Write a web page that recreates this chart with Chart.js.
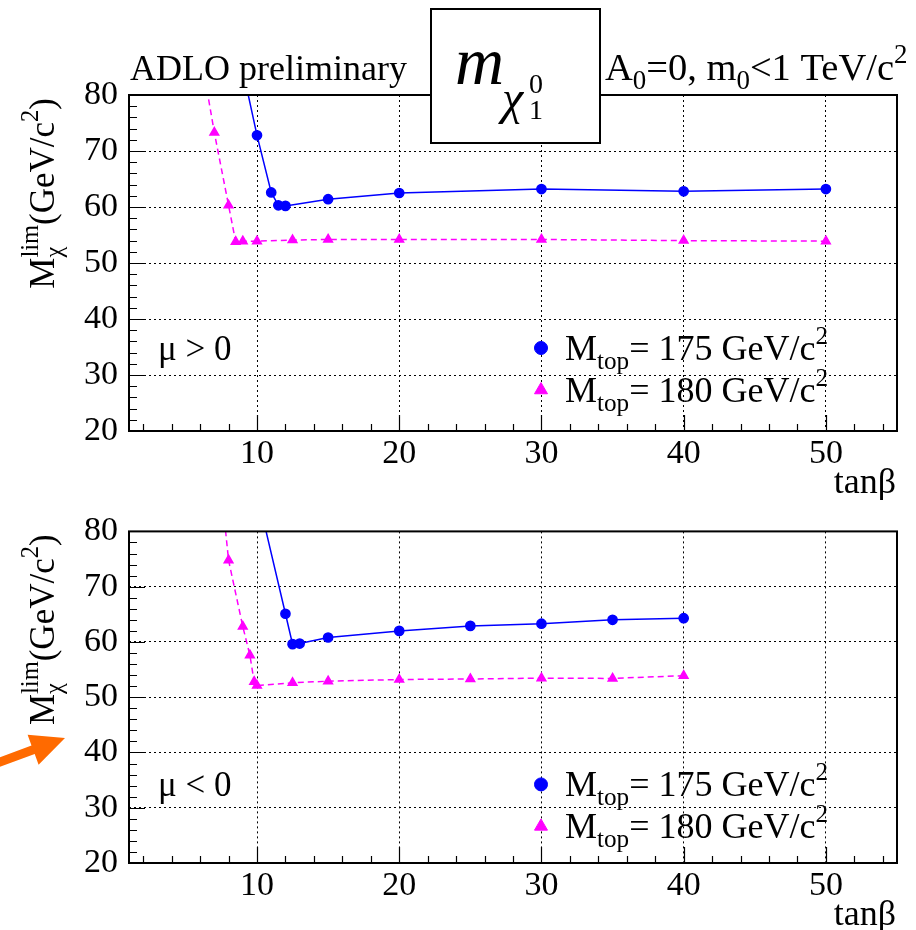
<!DOCTYPE html>
<html>
<head>
<meta charset="utf-8">
<script src="https://cdn.jsdelivr.net/npm/chart.js@4/dist/chart.umd.min.js"></script>
<style>
  body { margin: 0; background: #fff; }
  #wrap { position: relative; width: 916px; height: 930px; }
  canvas { position: absolute; left: 0; }
</style>
</head>
<body>
<div id="wrap">
  <canvas id="panelPos" width="916" height="500" style="top:0"></canvas>
  <canvas id="panelNeg" width="916" height="430" style="top:500px"></canvas>
</div>
<script>
// tanβ scan of the neutralino mass limit, mu > 0
const tanbPos175 = [9, 10, 11, 11.5, 12, 15, 20, 30, 40, 50];
const mlimPos175 = [84.5, 72.8, 62.6, 60.3, 60.2, 61.4, 62.5, 63.2, 62.8, 63.2];
const tanbPos180 = [6, 7, 8, 8.5, 9, 10, 12.5, 15, 20, 30, 40, 50];
const mlimPos180 = [88, 73.3, 60.3, 53.8, 53.9, 53.9, 54.1, 54.2, 54.2, 54.2, 54.0, 53.9];

// same, mu < 0
const tanbNeg175 = [10, 12, 12.5, 13, 15, 20, 25, 30, 35, 40];
const mlimNeg175 = [87, 65.1, 59.6, 59.7, 60.8, 62.0, 62.9, 63.3, 64.0, 64.3];
const tanbNeg180 = [7, 8, 9, 9.5, 9.8, 10, 12.5, 15, 20, 25, 30, 35, 40];
const mlimNeg180 = [100, 74.8, 62.8, 57.6, 52.8, 52.1, 52.6, 52.9, 53.2, 53.3, 53.45, 53.4, 53.9];

const xTickValues = [10, 20, 30, 40, 50];
const yTickValues = [20, 30, 40, 50, 60, 70, 80];
const mtopValues = ['175', '180'];

const SERIF = '"Liberation Serif", "Times New Roman", serif';
const BLUE = '#0000ff';
const MAGENTA = '#ff00ff';

function fontOf(size, style) {
  return (style || '') + ' ' + size + 'px ' + SERIF;
}

// pieces are plain strings or {sub, sup} stacked at the same x
function pieceWidth(ctx, p, size) {
  if (typeof p === 'string') {
    ctx.font = fontOf(size);
    return ctx.measureText(p).width;
  }
  ctx.font = fontOf(size * 0.7, p.style);
  const a = p.sub ? ctx.measureText(p.sub).width : 0;
  const b = p.sup ? ctx.measureText(p.sup).width : 0;
  return Math.max(a, b);
}

function drawRich(ctx, x, y, parts, size, align) {
  if (align === 'right') {
    x -= parts.reduce((w, p) => w + pieceWidth(ctx, p, size), 0);
  }
  ctx.textAlign = 'left';
  ctx.textBaseline = 'alphabetic';
  for (const p of parts) {
    const w = pieceWidth(ctx, p, size);
    if (typeof p === 'string') {
      ctx.font = fontOf(size);
      ctx.fillText(p, x, y);
    } else {
      ctx.font = fontOf(size * 0.7, p.style);
      if (p.sub) ctx.fillText(p.sub, x, y + size * 0.24);
      if (p.sup) ctx.fillText(p.sup, x, y - size * 0.45);
    }
    x += w;
  }
}

function toPoints(xs, ys) {
  return xs.map((x, i) => ({ x: x, y: ys[i] }));
}

// frame and the inward ROOT-style tick marks
const axisTicks = {
  id: 'axisTicks',
  afterDraw(chart) {
    const { ctx, chartArea: a, scales: { x, y } } = chart;
    ctx.save();
    ctx.strokeStyle = '#000';
    ctx.lineWidth = 1.2;
    ctx.beginPath();
    for (let v = 2; v <= 54; v += 2) {
      const px = Math.round(x.getPixelForValue(v)) + 0.5;
      const len = v % 10 === 0 ? 16 : 7;
      ctx.moveTo(px, a.bottom);
      ctx.lineTo(px, a.bottom - len);
    }
    for (let v = 22; v < 80; v += 2) {
      const py = Math.round(y.getPixelForValue(v)) + 0.5;
      const len = v % 10 === 0 ? 16 : 8;
      ctx.moveTo(a.left, py);
      ctx.lineTo(a.left + len, py);
    }
    ctx.stroke();
    ctx.lineWidth = 2;
    ctx.strokeRect(a.left, a.top, a.right - a.left, a.bottom - a.top);
    ctx.restore();
  }
};

// labels, legend and titles drawn over the plot
const panelText = {
  id: 'panelText',
  afterDraw(chart, args, opts) {
    const { ctx, chartArea: a } = chart;
    ctx.save();
    ctx.fillStyle = '#000';

    // mu sign
    drawRich(ctx, 158, a.top + 265, [opts.mu], 35);

    // legend
    const sets = chart.data.datasets;
    const rows = [a.top + 253, a.top + 295];
    sets.forEach((ds, i) => {
      ctx.save();
      ctx.fillStyle = ds.pointBackgroundColor;
      ctx.strokeStyle = ds.pointBackgroundColor;
      Chart.helpers.drawPoint(ctx, {
        pointStyle: ds.pointStyle,
        radius: ds.pointStyle === 'triangle' ? 7.5 : 6.5,
        borderWidth: 1,
        rotation: 0
      }, 541, rows[i]);
      ctx.restore();
      drawRich(ctx, 565, rows[i] + 12, ['M', { sub: 'top' }, '= ' + mtopValues[i] + ' GeV/c', { sup: '2' }], 36);
    });

    // y axis title, rotated
    ctx.save();
    ctx.translate(54, a.top + 3);
    ctx.rotate(-Math.PI / 2);
    drawRich(ctx, 0, 0, ['M', { sub: 'χ', sup: 'lim' }, '(GeV/c', { sup: '2' }, ')'], 35, 'right');
    ctx.restore();

    // x axis title
    drawRich(ctx, 896, a.bottom + 62, ['tanβ'], 36, 'right');

    if (opts.header) {
      drawRich(ctx, 130, 80, ['ADLO preliminary'], 36);
      drawRich(ctx, 605, 80, ['A', { sub: '0' }, '=0, m', { sub: '0' }, '<1 TeV/c', { sup: '2' }], 38.5);

      ctx.fillStyle = '#fff';
      ctx.fillRect(431, 9, 169, 134);
      ctx.lineWidth = 2;
      ctx.strokeStyle = '#000';
      ctx.strokeRect(431, 9, 169, 134);
      ctx.fillStyle = '#000';
      ctx.font = fontOf(68, 'italic');
      ctx.fillText('m', 455, 84);
      ctx.font = fontOf(48, 'italic');
      ctx.fillText('χ', 502, 114);
      ctx.font = fontOf(28);
      ctx.fillText('0', 529, 93);
      ctx.fillText('1', 529, 119);
    }

    if (opts.arrow) {
      // orange pointer at the left edge
      const oy = chart.canvas.offsetTop;
      ctx.fillStyle = '#ff6a00';
      ctx.beginPath();
      ctx.moveTo(-10 - 1.6, 765.7 - 4.2 - oy);
      ctx.lineTo(33.1 - 1.6, 749.8 - 4.2 - oy);
      ctx.lineTo(27.6, 734.8 - oy);
      ctx.lineTo(65, 738 - oy);
      ctx.lineTo(38.6, 764.8 - oy);
      ctx.lineTo(33.1 + 1.6, 749.8 + 4.2 - oy);
      ctx.lineTo(-10 + 1.6, 765.7 + 4.2 - oy);
      ctx.closePath();
      ctx.fill();
    }
    ctx.restore();
  }
};

function makePanel(id, set175, set180, areaTop, axisHeight, text) {
  const tickFont = { family: SERIF, size: 34 };
  return new Chart(document.getElementById(id), {
    type: 'line',
    data: {
      datasets: [{
        label: 'M_top = 175 GeV/c2',
        data: set175,
        borderColor: BLUE,
        borderWidth: 1.5,
        pointStyle: 'circle',
        pointRadius: 4.6,
        pointBackgroundColor: BLUE,
        pointBorderColor: BLUE,
        tension: 0
      }, {
        label: 'M_top = 180 GeV/c2',
        data: set180,
        borderColor: MAGENTA,
        borderWidth: 1.5,
        borderDash: [6, 4],
        pointStyle: 'triangle',
        pointRadius: 5,
        pointBackgroundColor: MAGENTA,
        pointBorderColor: MAGENTA,
        tension: 0
      }]
    },
    options: {
      responsive: false,
      animation: false,
      layout: { padding: { left: 0, right: 19, top: areaTop, bottom: 0 } },
      plugins: {
        legend: { display: false },
        tooltip: { enabled: false },
        panelText: text
      },
      scales: {
        x: {
          type: 'linear',
          min: 1,
          max: 55,
          afterBuildTicks: s => { s.ticks = xTickValues.map(v => ({ value: v })); },
          afterFit: s => { s.height = axisHeight; },
          grid: { color: '#000', lineWidth: 1, drawTicks: false },
          border: { display: false, dash: [2, 3] },
          ticks: { color: '#000', font: tickFont, padding: 3, maxRotation: 0, autoSkip: false }
        },
        y: {
          min: 20,
          max: 80,
          afterBuildTicks: s => { s.ticks = yTickValues.map(v => ({ value: v })); },
          afterFit: s => { s.width = 129; },
          grid: { color: '#000', lineWidth: 1, drawTicks: false },
          border: { display: false, dash: [2, 3] },
          ticks: { color: '#000', font: tickFont, padding: 11 }
        }
      }
    },
    plugins: [axisTicks, panelText]
  });
}

makePanel('panelPos', toPoints(tanbPos175, mlimPos175), toPoints(tanbPos180, mlimPos180),
  95, 69, { mu: 'μ > 0', header: true });
makePanel('panelNeg', toPoints(tanbNeg175, mlimNeg175), toPoints(tanbNeg180, mlimNeg180),
  27, 67, { mu: 'μ < 0', arrow: true });
</script>
</body>
</html>
